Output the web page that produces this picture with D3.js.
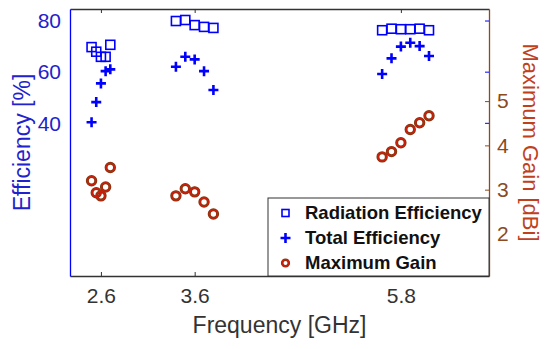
<!DOCTYPE html>
<html>
<head>
<meta charset="utf-8">
<script src="https://cdn.jsdelivr.net/npm/d3@7"></script>
<style>
  body { margin: 0; background: #fff; }
  svg { font-family: "Liberation Sans", Arial, sans-serif; }
</style>
</head>
<body>
<svg></svg>
<script>
const size = {w: 550, h: 349};
const margins = {t: 9, r: 61, b: 73, l: 70};

// frequencies (GHz)
const freqs = [2.5, 2.55, 2.6, 2.65, 2.7, 3.4, 3.5, 3.6, 3.7, 3.8, 5.6, 5.7, 5.8, 5.9, 6.0, 6.1];
// radiation efficiency (%)
const radEff = [69.8, 68.0, 66.0, 66.0, 70.7, 80.0, 80.4, 78.4, 77.7, 77.3, 76.4, 77.0, 76.8, 76.8, 77.0, 76.4];
// total efficiency (%)
const totEff = [40.4, 48.3, 55.6, 60.4, 61.1, 62.1, 66.0, 65.0, 60.4, 53.0, 59.3, 65.4, 70.0, 71.5, 70.2, 66.3];
// maximum gain (dBi)
const maxGain = [3.2, 2.93, 2.86, 3.06, 3.5, 2.86, 3.02, 2.95, 2.72, 2.45, 3.74, 3.86, 4.06, 4.36, 4.51, 4.67];

const xTicks = [2.6, 3.6, 5.8];
const leftTicks = [40, 60, 80];
const rightTicks = [2, 3, 4, 5];
const legendLabels = ['Radiation Efficiency', 'Total Efficiency', 'Maximum Gain'];

const blue = '#0000ff';
const blueText = '#2222cc';
const brown = '#8c4a1e';
const red = '#d01e0c';

const svg = d3.select('svg')
    .attr('width', size.w)
    .attr('height', size.h);

const x0 = margins.l, x1 = size.w - margins.r;
const y0 = size.h - margins.b, y1 = margins.t;

let xScale = d3.scaleLinear().domain([2.27, 6.74]).range([x0, x1]);
let yLeft = d3.scaleLinear().domain([-19.7, 84.7]).range([y0, y1]);
let yRight = d3.scaleLinear().domain([1.05, 7.08]).range([y0, y1]);

// box: top + bottom
svg.append('g')
    .attr('transform', `translate(0, ${y0})`)
    .call(d3.axisBottom(xScale).tickValues(xTicks).tickFormat(d3.format('.1f')).tickSizeInner(-4).tickSizeOuter(0).tickPadding(12))
    .call(g => g.select('.domain').attr('stroke', '#333').attr('stroke-width', 1.3))
    .call(g => g.selectAll('line').attr('stroke', '#333'))
    .call(g => g.selectAll('text').attr('font-size', 21).attr('fill', '#333').attr('font-family', 'Liberation Sans'));

svg.append('g')
    .attr('transform', `translate(0, ${y1})`)
    .call(d3.axisTop(xScale).tickValues(xTicks).tickFormat('').tickSizeInner(-4).tickSizeOuter(0))
    .call(g => g.select('.domain').attr('stroke', '#333').attr('stroke-width', 1.3))
    .call(g => g.selectAll('line').attr('stroke', '#333'));

// left axis
svg.append('g')
    .attr('transform', `translate(${x0}, 0)`)
    .call(d3.axisLeft(yLeft).tickValues(leftTicks).tickSizeInner(0).tickSizeOuter(0).tickPadding(9))
    .call(g => g.select('.domain').attr('stroke', blue).attr('stroke-width', 1.3))
    .call(g => g.selectAll('text').attr('font-size', 21).attr('fill', blueText).attr('font-family', 'Liberation Sans'));

// right axis
svg.append('g')
    .attr('transform', `translate(${x1}, 0)`)
    .call(d3.axisRight(yRight).tickValues(rightTicks).tickFormat(d3.format('d')).tickSizeInner(-4).tickSizeOuter(0).tickPadding(8))
    .call(g => g.select('.domain').attr('stroke', brown).attr('stroke-width', 1.3))
    .call(g => g.selectAll('line').attr('stroke', brown))
    .call(g => g.selectAll('text').attr('font-size', 21).attr('fill', brown).attr('font-family', 'Liberation Sans'));

// left ticks mirrored on right edge
svg.append('g')
    .selectAll('line')
    .data(leftTicks)
    .join('line')
    .attr('x1', x1 - 4).attr('x2', x1)
    .attr('y1', d => yLeft(d)).attr('y2', d => yLeft(d))
    .attr('stroke', blue);

// axis labels
svg.append('text')
    .attr('transform', `translate(${(x0 + x1) / 2}, ${size.h - 16})`)
    .attr('text-anchor', 'middle')
    .attr('font-size', 23)
    .attr('fill', '#333')
    .text('Frequency [GHz]');

svg.append('text')
    .attr('transform', `translate(30, ${(y0 + y1) / 2}) rotate(-90)`)
    .attr('text-anchor', 'middle')
    .attr('font-size', 23)
    .attr('fill', blueText)
    .text('Efficiency [%]');

svg.append('text')
    .attr('transform', `translate(523, ${(y0 + y1) / 2}) rotate(90)`)
    .attr('text-anchor', 'middle')
    .attr('font-size', 22)
    .attr('fill', '#c0401c')
    .text('Maximum Gain [dBi]');

const data = freqs.map((f, i) => ({f: f, rad: radEff[i], tot: totEff[i], gain: maxGain[i]}));

// radiation efficiency squares
svg.append('g')
    .selectAll('rect')
    .data(data)
    .join('rect')
    .attr('x', d => xScale(d.f) - 4.5)
    .attr('y', d => yLeft(d.rad) - 4.5)
    .attr('width', 9).attr('height', 9)
    .attr('fill', 'none')
    .attr('stroke', blue)
    .attr('stroke-width', 1.6);

// total efficiency crosses
svg.append('g')
    .selectAll('path')
    .data(data)
    .join('path')
    .attr('transform', d => `translate(${xScale(d.f)}, ${yLeft(d.tot)})`)
    .attr('d', 'M-5,0H5M0,-5V5')
    .attr('stroke', blue)
    .attr('stroke-width', 2.6);

// maximum gain circles (dark rim + red ring)
svg.append('g')
    .selectAll('circle')
    .data(data)
    .join('circle')
    .attr('cx', d => xScale(d.f))
    .attr('cy', d => yRight(d.gain))
    .attr('r', 4.2)
    .attr('fill', 'none')
    .attr('stroke', '#7a3a10')
    .attr('stroke-width', 3);

svg.append('g')
    .selectAll('circle')
    .data(data)
    .join('circle')
    .attr('cx', d => xScale(d.f))
    .attr('cy', d => yRight(d.gain))
    .attr('r', 4.2)
    .attr('fill', 'none')
    .attr('stroke', red)
    .attr('stroke-width', 1.6);

// legend
const legendG = svg.append('g').attr('transform', `translate(268, 198)`);
legendG.append('rect')
    .attr('width', x1 - 268).attr('height', y0 - 198)
    .attr('fill', '#fff')
    .attr('stroke', '#333')
    .attr('stroke-width', 1);

legendLabels.forEach((lab, i) => {
    let cy = 15 + i * 25;
    if (i === 0) {
        legendG.append('rect').attr('x', 14).attr('y', cy - 3.5).attr('width', 7).attr('height', 7)
            .attr('fill', 'none').attr('stroke', blue).attr('stroke-width', 1.6);
    } else if (i === 1) {
        legendG.append('path').attr('transform', `translate(17.5, ${cy})`)
            .attr('d', 'M-5,0H5M0,-5V5').attr('stroke', blue).attr('stroke-width', 2.6);
    } else {
        legendG.append('circle').attr('cx', 17.5).attr('cy', cy).attr('r', 3.3)
            .attr('fill', 'none').attr('stroke', '#7a3a10').attr('stroke-width', 2.6);
        legendG.append('circle').attr('cx', 17.5).attr('cy', cy).attr('r', 3.3)
            .attr('fill', 'none').attr('stroke', red).attr('stroke-width', 1.3);
    }
    legendG.append('text')
        .attr('x', 37).attr('y', cy)
        .attr('dy', '0.35em')
        .attr('font-size', 18.5)
        .attr('font-weight', 'bold')
        .attr('fill', '#111')
        .text(lab);
});
</script>
</body>
</html>
